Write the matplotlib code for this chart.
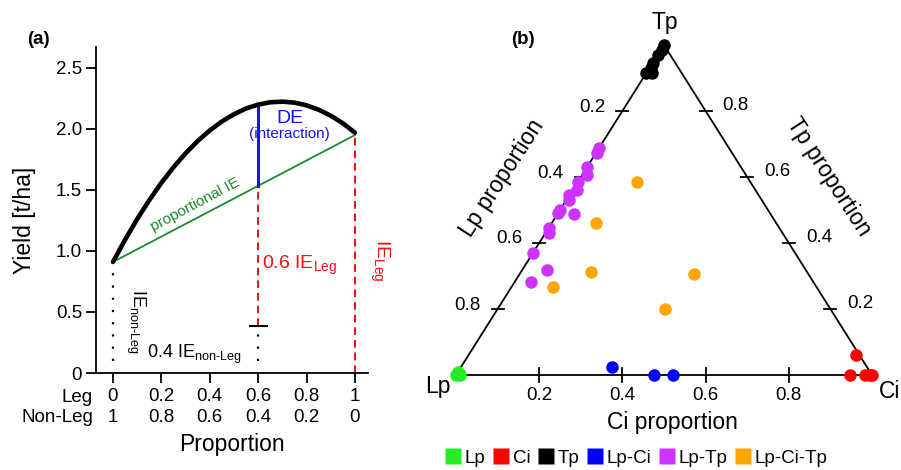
import numpy as np
import matplotlib
matplotlib.use('Agg')
import matplotlib.pyplot as plt
from matplotlib.lines import Line2D

plt.rcParams['font.family'] = ['Liberation Sans', 'DejaVu Sans']
plt.rcParams['mathtext.fontset'] = 'custom'
plt.rcParams['mathtext.rm'] = 'Liberation Sans'
plt.rcParams['mathtext.it'] = 'Liberation Sans:italic'

# ---- panel (a): yield of the mixture vs legume proportion
leg_prop = [0, 0.05, 0.1, 0.15, 0.2, 0.25, 0.3, 0.35, 0.4, 0.45, 0.5,
            0.55, 0.6, 0.65, 0.7, 0.75, 0.8, 0.85, 0.9, 0.95, 1.0]
mix_yield = [0.91, 1.092, 1.261, 1.416, 1.558, 1.686, 1.800, 1.901, 1.988, 2.061, 2.121,
             2.168, 2.200, 2.219, 2.224, 2.216, 2.194, 2.158, 2.109, 2.047, 1.97]
mono_nonleg = 0.91
mono_leg = 1.95
example_leg = 0.6
xticks = [0, 0.2, 0.4, 0.6, 0.8, 1]
leg_labels = ['0', '0.2', '0.4', '0.6', '0.8', '1']
nonleg_labels = ['1', '0.8', '0.6', '0.4', '0.2', '0']
yticks = [0, 0.5, 1.0, 1.5, 2.0, 2.5]
ytick_labels = ['0', '0.5', '1.0', '1.5', '2.0', '2.5']

# ---- panel (b): ternary plot (Ci proportion, Tp proportion)
groups = ['Lp', 'Ci', 'Tp', 'Lp-Ci', 'Lp-Tp', 'Lp-Ci-Tp']
colors = ['#22ee22', '#ff0000', '#000000', '#0000ff', '#cc33ff', '#ffa500']
ci_lp = [0.0, 0.005, 0.01, 0.0]
tp_lp = [0.0, 0.005, 0.0, 0.01]
ci_ci = [0.931, 0.947, 0.983, 0.995, 1.0]
tp_ci = [0.061, 0.0, 0.0, 0.0, 0.0]
ci_tp = [0.0, 0.002, 0.001, 0.001, 0.004, 0.0, 0.014]
tp_tp = [1.0, 0.985, 0.97, 0.945, 0.93, 0.915, 0.915]
ci_lpci = [0.363, 0.477, 0.522]
tp_lpci = [0.024, 0.0, 0.0]
ci_lptp = [0.0, 0.002, 0.0, 0.012, 0.0, 0.01, 0.0, 0.007, 0.0, 0.0,
           0.04, 0.0, 0.009, 0.0, 0.06, 0.039]
tp_lptp = [0.688, 0.673, 0.63, 0.606, 0.585, 0.561, 0.545, 0.53, 0.5, 0.491,
           0.488, 0.445, 0.43, 0.37, 0.318, 0.282]
ci_lpcitp = [0.143, 0.106, 0.169, 0.10, 0.419, 0.402]
tp_lpcitp = [0.585, 0.461, 0.312, 0.267, 0.306, 0.2]
tern_ticks = [0.2, 0.4, 0.6, 0.8]

W, H = 901, 470
fig = plt.figure(figsize=(W / 100, H / 100), dpi=100)
fs_tick = 13.5
fs_lab = 16.5


def fx(px):
    return px / W


def fy(py):
    return 1 - py / H


# ================= panel (a)
ax = fig.add_axes([fx(96), fy(373), fx(368 - 96), (373 - 47) / H])
ax.set_xlim(-0.07, 1.054)
ax.set_ylim(0, 2.672)
ax.spines['top'].set_visible(False)
ax.spines['right'].set_visible(False)
ax.spines['left'].set_linewidth(1.3)
ax.spines['bottom'].set_linewidth(1.3)
ax.set_yticks(yticks)
ax.set_yticklabels(ytick_labels, fontsize=fs_tick)
ax.set_xticks(xticks)
ax.set_xticklabels([])
ax.tick_params(axis='both', length=7, width=1.3)
ax.tick_params(axis='y', pad=3)

i_ex = leg_prop.index(example_leg)
ie_ex = mono_nonleg + example_leg * (mono_leg - mono_nonleg)
ax.plot(leg_prop, mix_yield, color='black', lw=3.3, solid_capstyle='round',
        solid_joinstyle='round', zorder=4)
ax.plot([0, 1], [mono_nonleg, mono_leg], color='#1a8a2a', lw=1.3, zorder=3)
ax.plot([example_leg, example_leg], [ie_ex, mix_yield[i_ex]], color='#1515ee', lw=2.2, zorder=3)
ax.plot([example_leg, example_leg], [0.385, ie_ex], color='#ee1111', lw=1.4, ls=(0, (4, 2.5)))
ax.plot([1, 1], [0, mono_leg], color='#ee1111', lw=1.4, ls=(0, (4, 2.5)))
ax.plot([0, 0], [0.1, mono_nonleg - 0.06], color='black', lw=1.6, ls=(0, (1, 4.5)))
ax.plot([example_leg, example_leg], [0.1, 0.35], color='black', lw=1.6, ls=(0, (1, 4.5)))
ax.plot([example_leg - 0.035, example_leg + 0.035], [0.385, 0.385], color='black', lw=1.5)

ax.text(0.73, 2.085, 'DE', color='#1515ee', fontsize=14, ha='center', va='center')
ax.text(0.73, 1.955, '(interaction)', color='#1515ee', fontsize=11, ha='center', va='center')
ax.text(0.34, 1.38, 'proportional IE', color='#1a8a2a', fontsize=11,
        rotation=28, ha='center', va='center', rotation_mode='anchor')
ax.text(0.615, 0.88, r'0.6 IE$_{\mathrm{Leg}}$', color='#ee1111', fontsize=14,
        ha='left', va='center')
ax.text(1.055, 0.92, r'IE$_{\mathrm{Leg}}$', color='#ee1111', fontsize=14,
        rotation=-90, ha='left', va='center')
ax.text(0.045, 0.42, r'IE$_{\text{non-Leg}}$', color='black', fontsize=13,
        rotation=-90, ha='left', va='center')
ax.text(0.14, 0.15, r'0.4 IE$_{\text{non-Leg}}$', color='black', fontsize=13,
        ha='left', va='center')

xt = ax.get_xaxis_transform()
for x, l1, l2 in zip(xticks, leg_labels, nonleg_labels):
    ax.text(x, -0.073, l1, transform=xt, ha='center', va='center', fontsize=fs_tick)
    ax.text(x, -0.138, l2, transform=xt, ha='center', va='center', fontsize=fs_tick)
fig.text(fx(93), fy(397), 'Leg', ha='right', va='center', fontsize=fs_tick)
fig.text(fx(93), fy(418), 'Non-Leg', ha='right', va='center', fontsize=fs_tick)
fig.text(fx(232), fy(445), 'Proportion', ha='center', va='center', fontsize=fs_lab)
fig.text(fx(24), fy(220), 'Yield [t/ha]', ha='center', va='center', fontsize=fs_lab, rotation=90)
fig.text(fx(38), fy(40), '(a)', ha='center', va='center', fontsize=13.5, fontweight='bold')

# ================= panel (b)
tx = fig.add_axes([fx(456), fy(375), fx(872 - 456), (375 - 45) / H])
tx.set_xlim(0, 1)
tx.set_ylim(0, 1)
tx.axis('off')


def tern(ci, tp):
    ci = np.asarray(ci, dtype=float)
    tp = np.asarray(tp, dtype=float)
    return ci + tp / 2, tp


tx.plot([0, 1, 0.5, 0], [0, 0, 1, 0], color='black', lw=1.3, clip_on=False, zorder=1)
dxp, dyp = 1 / 416, 1 / 330
for v in tern_ticks:
    x, y = tern(v, 0)
    tx.plot([x, x], [y - 7 * dyp, y + 7 * dyp], color='black', lw=1.3, clip_on=False)
    tx.text(x, y - 20 * dyp, f'{v}', ha='center', va='center', fontsize=fs_tick)
    x, y = tern(0, 1 - v)
    tx.plot([x - 6 * dxp, x + 6 * dxp], [y, y], color='black', lw=1.3, clip_on=False)
    tx.text(x - 17 * dxp, y + 4 * dyp, f'{v}', ha='right', va='center', fontsize=fs_tick)
    x, y = tern(1 - v, v)
    tx.plot([x - 6 * dxp, x + 6 * dxp], [y, y], color='black', lw=1.3, clip_on=False)
    tx.text(x + 17 * dxp, y + 5 * dyp, f'{v}', ha='left', va='center', fontsize=fs_tick)

ci_all = [ci_lp, ci_ci, ci_tp, ci_lpci, ci_lptp, ci_lpcitp]
tp_all = [tp_lp, tp_ci, tp_tp, tp_lpci, tp_lptp, tp_lpcitp]
for ci, tp, c in zip(ci_all, tp_all, colors):
    x, y = tern(ci, tp)
    tx.plot(x, y, 'o', color=c, ms=9, mec='none', clip_on=False, zorder=5)

fig.text(fx(665), fy(22), 'Tp', ha='center', va='center', fontsize=fs_lab)
fig.text(fx(438), fy(386), 'Lp', ha='center', va='center', fontsize=fs_lab)
fig.text(fx(890), fy(392), 'Ci', ha='center', va='center', fontsize=fs_lab)
fig.text(fx(672), fy(423), 'Ci proportion', ha='center', va='center', fontsize=fs_lab)
fig.text(fx(502), fy(178), 'Lp proportion', ha='center', va='center', fontsize=fs_lab, rotation=57)
fig.text(fx(829), fy(177), 'Tp proportion', ha='center', va='center', fontsize=fs_lab, rotation=-57)
fig.text(fx(523), fy(40), '(b)', ha='center', va='center', fontsize=13.5, fontweight='bold')

handles = [Line2D([], [], marker='s', ls='', color=c, ms=12, mec='none') for c in colors]
fig.legend(handles, groups, loc='center', bbox_to_anchor=(fx(637), fy(458)), ncol=6,
           frameon=False, handlelength=0.7, handletextpad=0.25, columnspacing=0.5,
           fontsize=fs_tick, borderpad=0)

fig.savefig('out.png', dpi=100)
